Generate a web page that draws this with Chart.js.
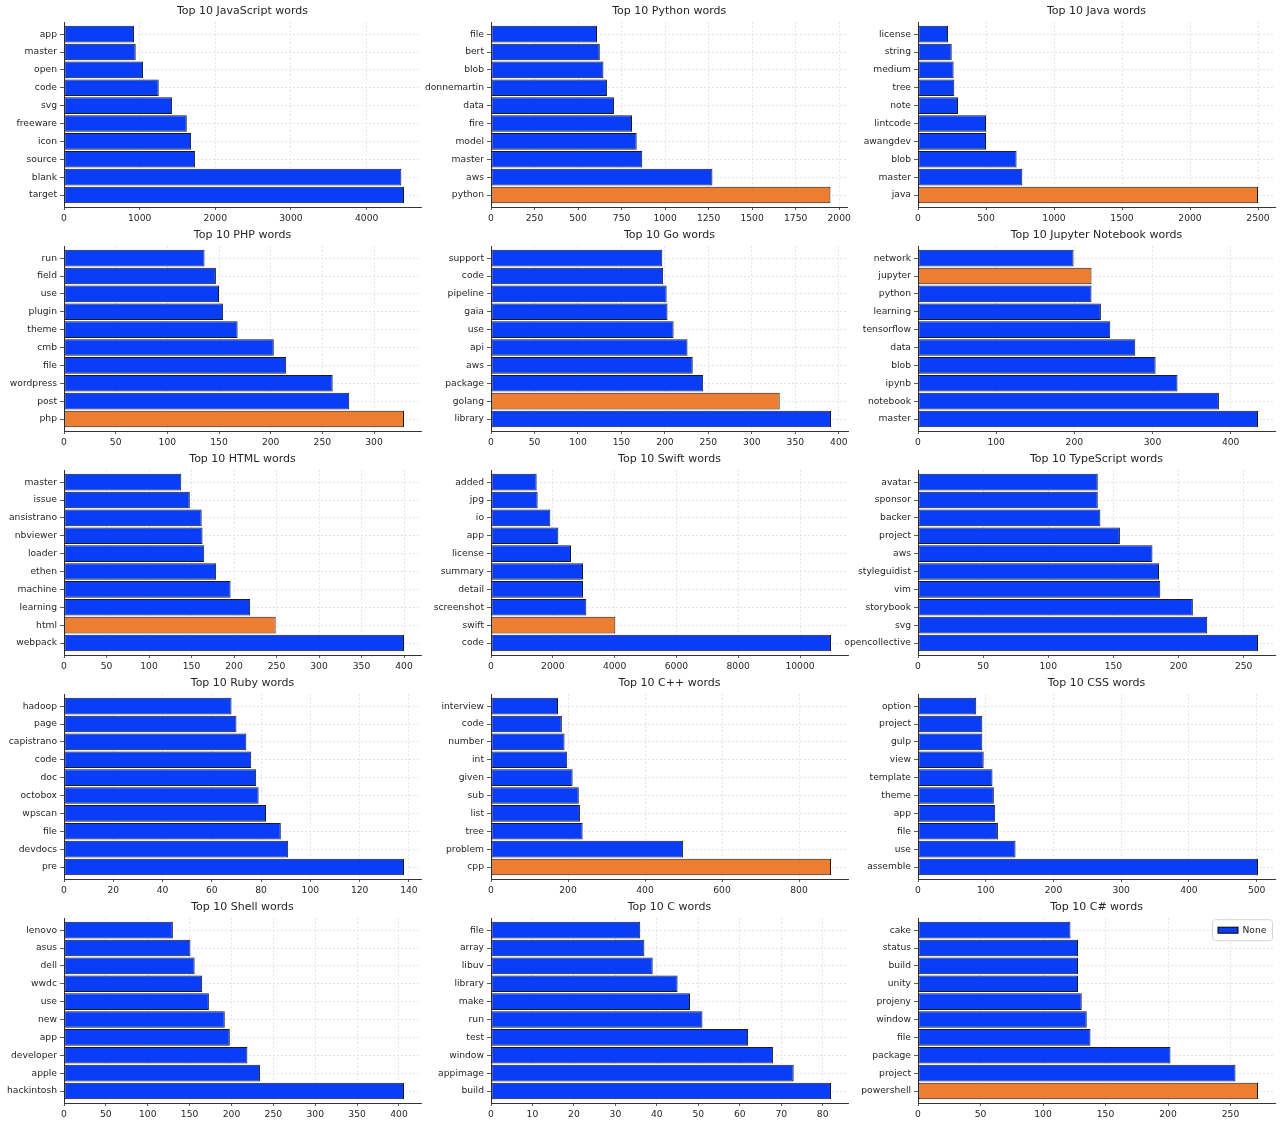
<!DOCTYPE html>
<html>
<head>
<meta charset="utf-8">
<script src="https://cdn.jsdelivr.net/npm/chart.js@4/dist/chart.umd.min.js"></script>
<style>
  html, body { margin: 0; padding: 0; background: #ffffff; overflow: hidden; }
  #wrap { position: relative; width: 1281px; height: 1125px; background: #ffffff; overflow: hidden; }
  .panel { position: absolute; height: 224px; }
  canvas { display: block; }
</style>
</head>
<body>
<div id="wrap"></div>
<script>
// ---------- DATA ----------
const titles = [
  'Top 10 JavaScript words', 'Top 10 Python words', 'Top 10 Java words',
  'Top 10 PHP words', 'Top 10 Go words', 'Top 10 Jupyter Notebook words',
  'Top 10 HTML words', 'Top 10 Swift words', 'Top 10 TypeScript words',
  'Top 10 Ruby words', 'Top 10 C++ words', 'Top 10 CSS words',
  'Top 10 Shell words', 'Top 10 C words', 'Top 10 C# words'
];

const jsWords = ['app','master','open','code','svg','freeware','icon','source','blank','target'];
const jsCounts = [926, 948, 1045, 1252, 1429, 1623, 1680, 1733, 4459, 4494];

const pyWords = ['file','bert','blob','donnemartin','data','fire','model','master','aws','python'];
const pyCounts = [609, 625, 646, 667, 707, 810, 837, 869, 1272, 1950];

const javaWords = ['license','string','medium','tree','note','lintcode','awangdev','blob','master','java'];
const javaCounts = [221, 248, 262, 267, 294, 500, 500, 725, 767, 2500];

const phpWords = ['run','field','use','plugin','theme','cmb','file','wordpress','post','php'];
const phpCounts = [136, 147, 150, 154, 168, 203, 215, 260, 276, 329];

const goWords = ['support','code','pipeline','gaia','use','api','aws','package','golang','library'];
const goCounts = [197, 198, 202, 203, 210, 226, 232, 244, 332, 391];

const jupyterWords = ['network','jupyter','python','learning','tensorflow','data','blob','ipynb','notebook','master'];
const jupyterCounts = [199, 222, 222, 234, 246, 278, 304, 332, 385, 435];

const htmlWords = ['master','issue','ansistrano','nbviewer','loader','ethen','machine','learning','html','webpack'];
const htmlCounts = [138, 148, 162, 163, 165, 179, 196, 219, 249, 400];

const swiftWords = ['added','jpg','io','app','license','summary','detail','screenshot','swift','code'];
const swiftCounts = [1478, 1510, 1920, 2179, 2589, 2977, 2977, 3085, 4024, 11003];

const tsWords = ['avatar','sponsor','backer','project','aws','styleguidist','vim','storybook','svg','opencollective'];
const tsCounts = [138, 138, 140, 155, 180, 185, 186, 211, 222, 261];

const rubyWords = ['hadoop','page','capistrano','code','doc','octobox','wpscan','file','devdocs','pre'];
const rubyCounts = [68, 70, 74, 76, 78, 79, 82, 88, 91, 138];

const cppWords = ['interview','code','number','int','given','sub','list','tree','problem','cpp'];
const cppCounts = [174, 184, 191, 198, 212, 228, 231, 238, 499, 883];

const cssWords = ['option','project','gulp','view','template','theme','app','file','use','assemble'];
const cssCounts = [86, 95, 95, 97, 110, 112, 114, 118, 144, 502];

const shellWords = ['lenovo','asus','dell','wwdc','use','new','app','developer','apple','hackintosh'];
const shellCounts = [130, 151, 156, 165, 173, 192, 198, 219, 234, 406];

const cWords = ['file','array','libuv','library','make','run','test','window','appimage','build'];
const cCounts = [36, 37, 39, 45, 48, 51, 62, 68, 73, 82];

const csWords = ['cake','status','build','unity','projeny','window','file','package','project','powershell'];
const csCounts = [122, 128, 128, 128, 131, 135, 138, 202, 254, 272];

const wordLists = [jsWords, pyWords, javaWords, phpWords, goWords, jupyterWords, htmlWords, swiftWords,
                   tsWords, rubyWords, cppWords, cssWords, shellWords, cWords, csWords];
const countLists = [jsCounts, pyCounts, javaCounts, phpCounts, goCounts, jupyterCounts, htmlCounts, swiftCounts,
                    tsCounts, rubyCounts, cppCounts, cssCounts, shellCounts, cCounts, csCounts];
// word matching the language (drawn in orange)
const highlightWords = ['', 'python', 'java', 'php', 'golang', 'jupyter', 'html', 'swift',
                        '', '', 'cpp', '', '', '', 'powershell'];
// x tick spacing per panel
const tickSteps = [1000, 250, 500, 50, 50, 100, 50, 2000, 50, 20, 200, 100, 50, 10, 50];
const legendLabel = 'None';
const legendPanel = 14;

// ---------- STYLE ----------
const BLUE = '#0a3df7';
const ORANGE = '#ed7d31';
const EDGE = '#1a1a1a';
const TEXT = '#262626';
const GRID = '#dedede';
const FONT = 'DejaVu Sans';
const TICK_SIZE = 9.2;
const TITLE_SIZE = 11;
const EXTRA = 14;          // extra canvas room on the left for long labels

const wrap = document.getElementById('wrap');

// small matplotlib-style legend box in the upper right of the plot area
const legendBox = {
  id: 'legendBox',
  afterDraw(chart) {
    const a = chart.chartArea;
    const ctx = chart.ctx;
    const label = chart.data.datasets[0].label;
    const w = 60, h = 21, x = a.right - w - 2.5, y = a.top + 1.5, r = 3;
    ctx.save();
    ctx.fillStyle = 'rgba(255,255,255,0.85)';
    ctx.strokeStyle = '#d4d4d4';
    ctx.lineWidth = 1;
    ctx.beginPath();
    ctx.moveTo(x + r, y);
    ctx.lineTo(x + w - r, y); ctx.quadraticCurveTo(x + w, y, x + w, y + r);
    ctx.lineTo(x + w, y + h - r); ctx.quadraticCurveTo(x + w, y + h, x + w - r, y + h);
    ctx.lineTo(x + r, y + h); ctx.quadraticCurveTo(x, y + h, x, y + h - r);
    ctx.lineTo(x, y + r); ctx.quadraticCurveTo(x, y, x + r, y);
    ctx.closePath();
    ctx.fill();
    ctx.stroke();
    ctx.fillStyle = BLUE;
    ctx.strokeStyle = '#000';
    ctx.fillRect(x + 5.5, y + 7.5, 20, 6);
    ctx.strokeRect(x + 5.5, y + 7.5, 20, 6);
    ctx.fillStyle = TEXT;
    ctx.font = TICK_SIZE + 'px "' + FONT + '"';
    ctx.textBaseline = 'middle';
    ctx.textAlign = 'left';
    ctx.fillText(label, x + 30, y + h / 2 + 0.5);
    ctx.restore();
  }
};

titles.forEach((title, i) => {
  const row = Math.floor(i / 3), col = i % 3;
  const div = document.createElement('div');
  div.className = 'panel';
  div.style.left = (col * 427 - EXTRA) + 'px';
  div.style.top = (row * 224) + 'px';
  div.style.width = (427 + EXTRA) + 'px';
  const canvas = document.createElement('canvas');
  canvas.width = 427 + EXTRA; canvas.height = 224;
  div.appendChild(canvas);
  wrap.appendChild(div);

  const words = wordLists[i];
  const counts = countLists[i];
  const hl = highlightWords[i];
  const step = tickSteps[i];
  const xMax = Math.max(...counts) * 1.05;

  new Chart(canvas, {
    type: 'bar',
    data: {
      datasets: [{
        label: legendLabel,
        data: counts.map((v, k) => ({ x: v, y: k })),
        backgroundColor: (c) => (words[c.dataIndex] === hl ? ORANGE : BLUE),
        borderColor: EDGE,
        borderWidth: 1,
        borderSkipped: false,
        barPercentage: 0.93,
        categoryPercentage: 1.0
      }]
    },
    options: {
      indexAxis: 'y',
      responsive: false,
      animation: false,
      devicePixelRatio: 1,
      layout: { padding: { left: 0, right: 6, top: 0, bottom: 0 } },
      plugins: {
        title: {
          display: true,
          fullSize: false,
          text: title,
          color: TEXT,
          font: { family: FONT, size: TITLE_SIZE, weight: 'normal' },
          padding: { top: 5, bottom: 4 }
        },
        legend: { display: false },
        tooltip: { enabled: false }
      },
      scales: {
        x: {
          type: 'linear',
          min: 0,
          max: xMax,
          offset: false,
          afterFit: (s) => { s.height = 17; },
          afterBuildTicks: (s) => {
            const t = [];
            for (let v = 0; v <= xMax; v += step) t.push({ value: v });
            s.ticks = t;
          },
          ticks: {
            autoSkip: false,
            maxRotation: 0,
            padding: 3,
            color: TEXT,
            font: { family: FONT, size: TICK_SIZE },
            callback: (v) => String(v)
          },
          grid: {
            offset: false,
            color: GRID, lineWidth: 0.8, tickColor: '#333', tickLength: 3
          },
          border: { display: true, color: '#333', width: 1, dash: [2, 2] }
        },
        y: {
          type: 'linear',
          reverse: true,
          offset: false,
          min: -0.67,
          max: 9.67,
          afterBuildTicks: (s) => {
            s.ticks = words.map((w, k) => ({ value: k }));
          },
          afterFit: (s) => { s.width = 64 + EXTRA; },
          ticks: {
            autoSkip: false,
            padding: 3,
            color: TEXT,
            font: { family: FONT, size: TICK_SIZE },
            callback: (v) => words[v]
          },
          grid: {
            offset: false,
            color: GRID, lineWidth: 0.8, tickColor: '#333', tickLength: 4
          },
          border: { display: true, color: '#333', width: 1, dash: [2, 2] }
        }
      }
    },
    plugins: i === legendPanel ? [legendBox] : []
  });
});
</script>
</body>
</html>
